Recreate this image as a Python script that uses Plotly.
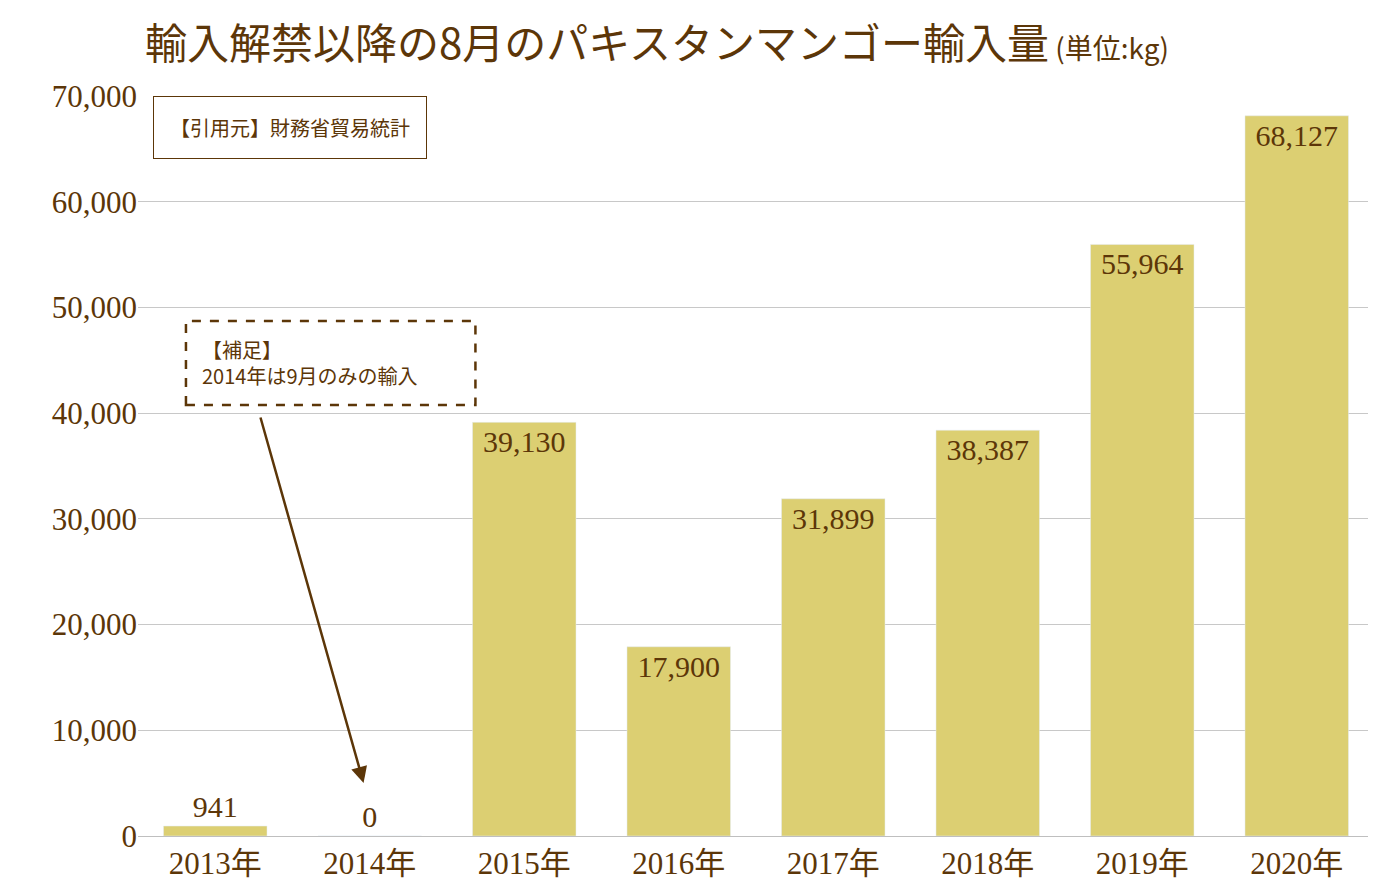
import plotly.graph_objects as go

years = ["2013年","2014年","2015年","2016年","2017年","2018年","2019年","2020年"]
values = [941, 0, 39130, 17900, 31899, 38387, 55964, 68127]
labels = ["941","0","39,130","17,900","31,899","38,387","55,964","68,127"]

brown = "#5c3608"
serif = "Liberation Serif, Noto Sans CJK JP, serif"
pos = ["outside" if v < 5000 else "inside" for v in values]

fig = go.Figure(go.Bar(
    x=years, y=values, text=labels, textposition=pos, insidetextanchor="end",
    marker_color="#dccf72", cliponaxis=False,
    textfont=dict(family=serif, size=30, color=brown),
    outsidetextfont=dict(family=serif, size=30, color=brown),
    insidetextfont=dict(family=serif, size=30, color=brown),
))
fig.update_layout(
    width=1376, height=888, plot_bgcolor="white", paper_bgcolor="white",
    margin=dict(l=130, r=10, t=88, b=60, autoexpand=False), bargap=0.33, showlegend=False,
    uniformtext=dict(minsize=10),
    xaxis=dict(tickfont=dict(family=serif, size=31, color=brown), showline=True,
               linecolor="#bfbfbf", ticks="", automargin=False),
    yaxis=dict(range=[0, 70000], dtick=10000, tickformat=",", gridcolor="#c8c8c8",
               tickfont=dict(family=serif, size=31, color=brown), zeroline=False, automargin=False),
    annotations=[
        dict(xref="paper", yref="paper", x=0.0, y=1.0, yshift=56, xshift=5,
             xanchor="left", yanchor="middle", showarrow=False,
             text="輸入解禁以降の8月のパキスタンマンゴー輸入量<span style='font-size:28px'> (単位:kg)</span>",
             font=dict(family="Noto Sans CJK JP", size=42, color=brown)),
        dict(xref="paper", yref="paper", x=0.012, y=0.957, xanchor="left", yanchor="middle",
             showarrow=False, text="【引用元】財務省貿易統計", bordercolor=brown, borderwidth=1,
             borderpad=16, bgcolor="white",
             font=dict(family="Noto Sans CJK JP", size=20, color=brown)),
        dict(xref="paper", yref="paper", x=0.05, y=0.64, xanchor="left", yanchor="middle",
             showarrow=False, align="left", text="【補足】<br>2014年は9月のみの輸入",
             font=dict(family="Noto Sans CJK JP", size=20, color=brown)),
        dict(x=0.96, y=5014, ax=0.29, ay=39730, xref="x", yref="y", axref="x", ayref="y",
             showarrow=True, arrowhead=2, arrowsize=1.3, arrowwidth=2.5, arrowcolor=brown, text=""),
    ],
    shapes=[dict(type="rect", xref="paper", yref="paper", x0=0.0388, x1=0.273,
                 y0=(828-397)/740, y1=(828-313)/740,
                 line=dict(color=brown, width=2.5, dash="dash"))],
)
fig.write_html("out.html")
